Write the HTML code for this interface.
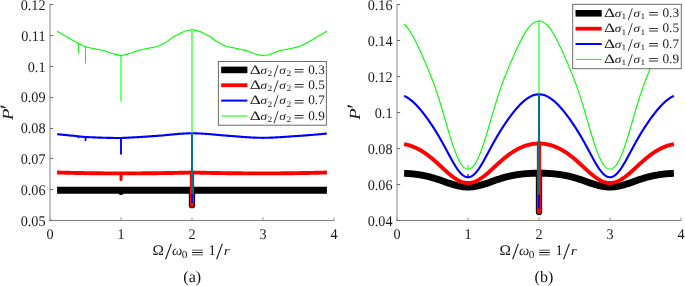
<!DOCTYPE html>
<html><head><meta charset="utf-8"><title>Figure</title>
<style>
html,body{margin:0;padding:0;background:#fff;}
body{width:685px;height:286px;overflow:hidden;}
svg{display:block;}
text{font-family:"Liberation Serif","DejaVu Serif",serif;fill:#1a1a1a;text-rendering:geometricPrecision;}
.t{font-size:14.8px;}
.cap{font-size:16px;fill:#111;}
</style></head><body>
<svg width="685" height="286" viewBox="0 0 685 286">
<rect width="685" height="286" fill="#ffffff"/>
<rect x="49.0" y="4.2" width="2" height="216.6" fill="#c2c2c2"/>
<rect x="49.1" y="219.95" width="285.4" height="0.9" fill="#6e6e6e"/>
<rect x="50.0" y="4" width="3.1" height="1" fill="#6a6a6a"/>
<text transform="translate(45.5,10.05) scale(0.96,1)" text-anchor="end" class="t">0.12</text>
<rect x="50.0" y="35" width="3.1" height="1" fill="#6a6a6a"/>
<text transform="translate(45.5,40.85) scale(0.96,1)" text-anchor="end" class="t">0.11</text>
<rect x="50.0" y="66" width="3.1" height="1" fill="#6a6a6a"/>
<text transform="translate(45.5,71.65) scale(0.96,1)" text-anchor="end" class="t">0.1</text>
<rect x="50.0" y="97" width="3.1" height="1" fill="#6a6a6a"/>
<text transform="translate(45.5,102.45) scale(0.96,1)" text-anchor="end" class="t">0.09</text>
<rect x="50.0" y="128" width="3.1" height="1" fill="#6a6a6a"/>
<text transform="translate(45.5,133.25) scale(0.96,1)" text-anchor="end" class="t">0.08</text>
<rect x="50.0" y="158" width="3.1" height="1" fill="#6a6a6a"/>
<text transform="translate(45.5,164.05) scale(0.96,1)" text-anchor="end" class="t">0.07</text>
<rect x="50.0" y="189" width="3.1" height="1" fill="#6a6a6a"/>
<text transform="translate(45.5,194.85) scale(0.96,1)" text-anchor="end" class="t">0.06</text>
<rect x="50.0" y="220" width="3.1" height="1" fill="#6a6a6a"/>
<text transform="translate(45.5,225.65) scale(0.96,1)" text-anchor="end" class="t">0.05</text>
<rect x="49.5" y="217.4" width="1" height="3" fill="#9a9a9a"/>
<text transform="translate(50.0,238.5) scale(0.96,1)" text-anchor="middle" class="t">0</text>
<rect x="120.5" y="217.4" width="1" height="3" fill="#9a9a9a"/>
<text transform="translate(121.0,238.5) scale(0.96,1)" text-anchor="middle" class="t">1</text>
<rect x="191.5" y="217.4" width="1" height="3" fill="#9a9a9a"/>
<text transform="translate(192.0,238.5) scale(0.96,1)" text-anchor="middle" class="t">2</text>
<rect x="262.5" y="217.4" width="1" height="3" fill="#9a9a9a"/>
<text transform="translate(263.0,238.5) scale(0.96,1)" text-anchor="middle" class="t">3</text>
<rect x="333.5" y="217.4" width="1" height="3" fill="#9a9a9a"/>
<text transform="translate(334.0,238.5) scale(0.96,1)" text-anchor="middle" class="t">4</text>
<rect x="396.0" y="4.2" width="2" height="216.6" fill="#c2c2c2"/>
<rect x="396.1" y="219.95" width="285.4" height="0.9" fill="#6e6e6e"/>
<rect x="397.0" y="4" width="3.1" height="1" fill="#6a6a6a"/>
<text transform="translate(392.5,10.05) scale(0.96,1)" text-anchor="end" class="t">0.16</text>
<rect x="397.0" y="40" width="3.1" height="1" fill="#6a6a6a"/>
<text transform="translate(392.5,45.98) scale(0.96,1)" text-anchor="end" class="t">0.14</text>
<rect x="397.0" y="76" width="3.1" height="1" fill="#6a6a6a"/>
<text transform="translate(392.5,81.92) scale(0.96,1)" text-anchor="end" class="t">0.12</text>
<rect x="397.0" y="112" width="3.1" height="1" fill="#6a6a6a"/>
<text transform="translate(392.5,117.85) scale(0.96,1)" text-anchor="end" class="t">0.1</text>
<rect x="397.0" y="148" width="3.1" height="1" fill="#6a6a6a"/>
<text transform="translate(392.5,153.78) scale(0.96,1)" text-anchor="end" class="t">0.08</text>
<rect x="397.0" y="184" width="3.1" height="1" fill="#6a6a6a"/>
<text transform="translate(392.5,189.72) scale(0.96,1)" text-anchor="end" class="t">0.06</text>
<rect x="397.0" y="220" width="3.1" height="1" fill="#6a6a6a"/>
<text transform="translate(392.5,225.65) scale(0.96,1)" text-anchor="end" class="t">0.04</text>
<rect x="396.5" y="217.4" width="1" height="3" fill="#9a9a9a"/>
<text transform="translate(397.0,238.5) scale(0.96,1)" text-anchor="middle" class="t">0</text>
<rect x="467.5" y="217.4" width="1" height="3" fill="#9a9a9a"/>
<text transform="translate(468.0,238.5) scale(0.96,1)" text-anchor="middle" class="t">1</text>
<rect x="538.5" y="217.4" width="1" height="3" fill="#9a9a9a"/>
<text transform="translate(539.0,238.5) scale(0.96,1)" text-anchor="middle" class="t">2</text>
<rect x="609.5" y="217.4" width="1" height="3" fill="#9a9a9a"/>
<text transform="translate(610.0,238.5) scale(0.96,1)" text-anchor="middle" class="t">3</text>
<rect x="680.5" y="217.4" width="1" height="3" fill="#9a9a9a"/>
<text transform="translate(681.0,238.5) scale(0.96,1)" text-anchor="middle" class="t">4</text>
<path d="M57.10,190.20 L326.90,190.20" fill="none" stroke="#000000" stroke-width="6.9" stroke-linejoin="round" />
<line x1="121.00" y1="190.20" x2="121.00" y2="192.20" stroke="#000000" stroke-width="5.5" stroke-linecap="round"/>
<line x1="192.00" y1="190.20" x2="192.00" y2="205.20" stroke="#000000" stroke-width="6.3" stroke-linecap="round"/>
<path d="M57.10,172.50 L58.07,172.53 L59.04,172.55 L60.01,172.58 L60.98,172.60 L61.95,172.63 L62.92,172.65 L63.89,172.67 L64.86,172.70 L65.83,172.72 L66.81,172.74 L67.78,172.77 L68.75,172.79 L69.72,172.81 L70.69,172.83 L71.66,172.85 L72.63,172.87 L73.60,172.89 L74.57,172.91 L75.54,172.93 L76.51,172.95 L77.48,172.97 L78.45,172.99 L79.42,173.01 L80.39,173.02 L81.36,173.04 L82.33,173.06 L83.30,173.07 L84.27,173.09 L85.24,173.11 L86.22,173.12 L87.19,173.14 L88.16,173.15 L89.13,173.16 L90.10,173.18 L91.07,173.19 L92.04,173.21 L93.01,173.22 L93.98,173.23 L94.95,173.24 L95.92,173.25 L96.89,173.26 L97.86,173.27 L98.83,173.28 L99.80,173.29 L100.77,173.30 L101.74,173.31 L102.71,173.32 L103.68,173.33 L104.65,173.34 L105.63,173.34 L106.60,173.35 L107.57,173.36 L108.54,173.36 L109.51,173.37 L110.48,173.37 L111.45,173.38 L112.42,173.38 L113.39,173.39 L114.36,173.39 L115.33,173.39 L116.30,173.39 L117.27,173.40 L118.24,173.40 L119.21,173.40 L120.18,173.40 L121.15,173.40 L122.12,173.40 L123.09,173.40 L124.06,173.40 L125.04,173.40 L126.01,173.40 L126.98,173.39 L127.95,173.39 L128.92,173.39 L129.89,173.39 L130.86,173.38 L131.83,173.38 L132.80,173.38 L133.77,173.37 L134.74,173.37 L135.71,173.36 L136.68,173.36 L137.65,173.35 L138.62,173.35 L139.59,173.34 L140.56,173.34 L141.53,173.33 L142.50,173.32 L143.47,173.32 L144.45,173.31 L145.42,173.30 L146.39,173.29 L147.36,173.28 L148.33,173.28 L149.30,173.27 L150.27,173.26 L151.24,173.25 L152.21,173.24 L153.18,173.23 L154.15,173.22 L155.12,173.20 L156.09,173.19 L157.06,173.18 L158.03,173.17 L159.00,173.16 L159.97,173.14 L160.94,173.13 L161.91,173.12 L162.88,173.10 L163.86,173.09 L164.83,173.07 L165.80,173.06 L166.77,173.04 L167.74,173.02 L168.71,173.01 L169.68,172.99 L170.65,172.97 L171.62,172.96 L172.59,172.94 L173.56,172.92 L174.53,172.90 L175.50,172.88 L176.47,172.86 L177.44,172.84 L178.41,172.82 L179.38,172.80 L180.35,172.78 L181.32,172.76 L182.29,172.74 L183.27,172.72 L184.24,172.69 L185.21,172.67 L186.18,172.65 L187.15,172.62 L188.12,172.60 L189.09,172.58 L190.06,172.55 L191.03,172.53 L192.00,172.50 L192.97,172.53 L193.94,172.55 L194.91,172.58 L195.88,172.60 L196.85,172.62 L197.82,172.65 L198.79,172.67 L199.76,172.69 L200.73,172.72 L201.71,172.74 L202.68,172.76 L203.65,172.78 L204.62,172.80 L205.59,172.82 L206.56,172.84 L207.53,172.86 L208.50,172.88 L209.47,172.90 L210.44,172.92 L211.41,172.94 L212.38,172.96 L213.35,172.97 L214.32,172.99 L215.29,173.01 L216.26,173.02 L217.23,173.04 L218.20,173.06 L219.17,173.07 L220.14,173.09 L221.12,173.10 L222.09,173.12 L223.06,173.13 L224.03,173.14 L225.00,173.16 L225.97,173.17 L226.94,173.18 L227.91,173.19 L228.88,173.20 L229.85,173.22 L230.82,173.23 L231.79,173.24 L232.76,173.25 L233.73,173.26 L234.70,173.27 L235.67,173.28 L236.64,173.28 L237.61,173.29 L238.58,173.30 L239.55,173.31 L240.53,173.32 L241.50,173.32 L242.47,173.33 L243.44,173.34 L244.41,173.34 L245.38,173.35 L246.35,173.35 L247.32,173.36 L248.29,173.36 L249.26,173.37 L250.23,173.37 L251.20,173.38 L252.17,173.38 L253.14,173.38 L254.11,173.39 L255.08,173.39 L256.05,173.39 L257.02,173.39 L257.99,173.40 L258.96,173.40 L259.94,173.40 L260.91,173.40 L261.88,173.40 L262.85,173.40 L263.82,173.40 L264.79,173.40 L265.76,173.40 L266.73,173.40 L267.70,173.39 L268.67,173.39 L269.64,173.39 L270.61,173.39 L271.58,173.38 L272.55,173.38 L273.52,173.37 L274.49,173.37 L275.46,173.36 L276.43,173.36 L277.40,173.35 L278.37,173.34 L279.35,173.34 L280.32,173.33 L281.29,173.32 L282.26,173.31 L283.23,173.30 L284.20,173.29 L285.17,173.28 L286.14,173.27 L287.11,173.26 L288.08,173.25 L289.05,173.24 L290.02,173.23 L290.99,173.22 L291.96,173.21 L292.93,173.19 L293.90,173.18 L294.87,173.16 L295.84,173.15 L296.81,173.14 L297.78,173.12 L298.76,173.11 L299.73,173.09 L300.70,173.07 L301.67,173.06 L302.64,173.04 L303.61,173.02 L304.58,173.01 L305.55,172.99 L306.52,172.97 L307.49,172.95 L308.46,172.93 L309.43,172.91 L310.40,172.89 L311.37,172.87 L312.34,172.85 L313.31,172.83 L314.28,172.81 L315.25,172.79 L316.22,172.77 L317.19,172.74 L318.17,172.72 L319.14,172.70 L320.11,172.67 L321.08,172.65 L322.05,172.63 L323.02,172.60 L323.99,172.58 L324.96,172.55 L325.93,172.53 L326.90,172.50" fill="none" stroke="#ff0000" stroke-width="3.9" stroke-linejoin="round" />
<line x1="85.50" y1="173.00" x2="85.50" y2="174.60" stroke="#ff0000" stroke-width="1.6" stroke-linecap="round"/>
<line x1="121.00" y1="173.70" x2="121.00" y2="179.50" stroke="#ff0000" stroke-width="3.0" stroke-linecap="round"/>
<line x1="192.00" y1="172.80" x2="192.00" y2="205.20" stroke="#ff0000" stroke-width="4.3" stroke-linecap="round"/>
<path d="M57.10,134.20 L58.18,134.30 L59.27,134.41 L60.35,134.51 L61.43,134.62 L62.52,134.73 L63.60,134.83 L64.68,134.94 L65.76,135.04 L66.85,135.15 L67.93,135.26 L69.01,135.36 L70.10,135.47 L71.18,135.58 L72.26,135.69 L73.35,135.79 L74.43,135.90 L75.51,136.01 L76.59,136.12 L77.68,136.23 L78.76,136.34 L79.84,136.46 L80.93,136.59 L82.01,136.71 L83.09,136.83 L84.18,136.93 L85.26,137.00 L86.34,137.05 L87.43,137.10 L88.51,137.16 L89.59,137.21 L90.67,137.26 L91.76,137.30 L92.84,137.35 L93.92,137.40 L95.01,137.44 L96.09,137.48 L97.17,137.52 L98.26,137.56 L99.34,137.60 L100.42,137.64 L101.51,137.67 L102.59,137.71 L103.67,137.74 L104.75,137.77 L105.84,137.80 L106.92,137.83 L108.00,137.85 L109.09,137.87 L110.17,137.89 L111.25,137.91 L112.34,137.93 L113.42,137.95 L114.50,137.96 L115.58,137.97 L116.67,137.98 L117.75,137.99 L118.83,138.00 L119.92,138.00 L121.00,138.00 L121.90,137.96 L122.80,137.93 L123.70,137.89 L124.59,137.85 L125.49,137.81 L126.39,137.76 L127.29,137.72 L128.19,137.68 L129.09,137.63 L129.99,137.59 L130.89,137.54 L131.78,137.49 L132.68,137.44 L133.58,137.39 L134.48,137.34 L135.38,137.29 L136.28,137.24 L137.18,137.19 L138.08,137.13 L138.97,137.08 L139.87,137.03 L140.77,136.97 L141.67,136.91 L142.57,136.86 L143.47,136.80 L144.37,136.74 L145.27,136.68 L146.16,136.62 L147.06,136.56 L147.96,136.50 L148.86,136.44 L149.76,136.38 L150.66,136.32 L151.56,136.26 L152.46,136.19 L153.35,136.13 L154.25,136.07 L155.15,136.00 L156.05,135.94 L156.95,135.87 L157.85,135.81 L158.75,135.74 L159.65,135.67 L160.54,135.60 L161.44,135.53 L162.34,135.45 L163.24,135.37 L164.14,135.29 L165.04,135.20 L165.94,135.11 L166.84,135.02 L167.73,134.93 L168.63,134.84 L169.53,134.75 L170.43,134.66 L171.33,134.57 L172.23,134.48 L173.13,134.39 L174.03,134.31 L174.92,134.22 L175.82,134.14 L176.72,134.07 L177.62,133.99 L178.52,133.92 L179.42,133.86 L180.32,133.80 L181.22,133.74 L182.11,133.69 L183.01,133.63 L183.91,133.58 L184.81,133.53 L185.71,133.48 L186.61,133.44 L187.51,133.39 L188.41,133.35 L189.30,133.31 L190.20,133.27 L191.10,133.23 L192.00,133.20 L192.97,133.23 L193.94,133.26 L194.91,133.29 L195.88,133.33 L196.85,133.37 L197.82,133.41 L198.79,133.45 L199.76,133.50 L200.73,133.54 L201.71,133.59 L202.68,133.64 L203.65,133.70 L204.62,133.75 L205.59,133.82 L206.56,133.88 L207.53,133.96 L208.50,134.04 L209.47,134.12 L210.44,134.20 L211.41,134.29 L212.38,134.38 L213.35,134.47 L214.32,134.57 L215.29,134.66 L216.26,134.76 L217.23,134.85 L218.20,134.94 L219.17,135.04 L220.14,135.12 L221.12,135.21 L222.09,135.30 L223.06,135.37 L224.03,135.45 L225.00,135.52 L225.97,135.59 L226.94,135.67 L227.91,135.74 L228.88,135.81 L229.85,135.89 L230.82,135.97 L231.79,136.05 L232.76,136.12 L233.73,136.20 L234.70,136.28 L235.67,136.36 L236.64,136.44 L237.61,136.52 L238.58,136.59 L239.55,136.67 L240.53,136.75 L241.50,136.82 L242.47,136.89 L243.44,136.96 L244.41,137.03 L245.38,137.10 L246.35,137.17 L247.32,137.23 L248.29,137.29 L249.26,137.35 L250.23,137.41 L251.20,137.46 L252.17,137.51 L253.14,137.56 L254.11,137.60 L255.08,137.64 L256.05,137.67 L257.02,137.71 L257.99,137.73 L258.96,137.76 L259.94,137.77 L260.91,137.79 L261.88,137.80 L262.85,137.80 L263.82,137.80 L264.79,137.79 L265.76,137.78 L266.73,137.76 L267.70,137.74 L268.67,137.72 L269.64,137.69 L270.61,137.65 L271.58,137.62 L272.55,137.58 L273.52,137.53 L274.49,137.49 L275.46,137.44 L276.43,137.39 L277.40,137.33 L278.37,137.28 L279.35,137.22 L280.32,137.16 L281.29,137.09 L282.26,137.03 L283.23,136.97 L284.20,136.90 L285.17,136.83 L286.14,136.77 L287.11,136.70 L288.08,136.63 L289.05,136.56 L290.02,136.50 L290.99,136.43 L291.96,136.36 L292.93,136.30 L293.90,136.23 L294.87,136.17 L295.84,136.11 L296.81,136.05 L297.78,135.99 L298.76,135.92 L299.73,135.85 L300.70,135.78 L301.67,135.71 L302.64,135.64 L303.61,135.57 L304.58,135.50 L305.55,135.42 L306.52,135.34 L307.49,135.27 L308.46,135.19 L309.43,135.11 L310.40,135.03 L311.37,134.95 L312.34,134.87 L313.31,134.79 L314.28,134.71 L315.25,134.63 L316.22,134.54 L317.19,134.46 L318.17,134.37 L319.14,134.28 L320.11,134.19 L321.08,134.11 L322.05,134.02 L323.02,133.92 L323.99,133.83 L324.96,133.74 L325.93,133.64 L326.90,133.55" fill="none" stroke="#0000ff" stroke-width="2.15" stroke-linejoin="round" />
<line x1="78.40" y1="136.00" x2="78.40" y2="138.20" stroke="#0000ff" stroke-width="1.6" stroke-linecap="butt"/>
<line x1="85.50" y1="136.70" x2="85.50" y2="141.00" stroke="#0000ff" stroke-width="1.7" stroke-linecap="butt"/>
<line x1="121.00" y1="137.70" x2="121.00" y2="154.50" stroke="#0000ff" stroke-width="1.9" stroke-linecap="butt"/>
<line x1="192.00" y1="132.90" x2="192.00" y2="203.00" stroke="#0000ff" stroke-width="2.0" stroke-linecap="butt"/>
<path d="M57.10,31.10 L58.18,31.76 L59.27,32.41 L60.35,33.06 L61.43,33.71 L62.52,34.35 L63.60,34.99 L64.68,35.63 L65.76,36.26 L66.85,36.89 L67.93,37.52 L69.01,38.14 L70.10,38.78 L71.18,39.41 L72.26,40.03 L73.35,40.66 L74.43,41.27 L75.51,41.87 L76.59,42.46 L77.68,43.03 L78.76,43.58 L79.84,44.14 L80.93,44.70 L82.01,45.25 L83.09,45.75 L84.18,46.21 L85.26,46.59 L86.34,46.91 L87.43,47.21 L88.51,47.48 L89.59,47.74 L90.67,47.98 L91.76,48.20 L92.84,48.42 L93.92,48.63 L95.01,48.83 L96.09,49.04 L97.17,49.25 L98.26,49.47 L99.34,49.68 L100.42,49.88 L101.51,50.07 L102.59,50.28 L103.67,50.52 L104.75,50.81 L105.84,51.17 L106.92,51.58 L108.00,52.01 L109.09,52.44 L110.17,52.83 L111.25,53.17 L112.34,53.49 L113.42,53.80 L114.50,54.10 L115.58,54.38 L116.67,54.65 L117.75,54.91 L118.83,55.16 L119.92,55.39 L121.00,55.60 L121.90,55.42 L122.80,55.22 L123.70,55.02 L124.59,54.80 L125.49,54.57 L126.39,54.34 L127.29,54.09 L128.19,53.84 L129.09,53.58 L129.99,53.32 L130.89,53.04 L131.78,52.77 L132.68,52.47 L133.58,52.14 L134.48,51.78 L135.38,51.42 L136.28,51.07 L137.18,50.75 L138.08,50.48 L138.97,50.25 L139.87,50.05 L140.77,49.86 L141.67,49.68 L142.57,49.48 L143.47,49.29 L144.37,49.10 L145.27,48.90 L146.16,48.71 L147.06,48.52 L147.96,48.33 L148.86,48.14 L149.76,47.95 L150.66,47.77 L151.56,47.59 L152.46,47.43 L153.35,47.26 L154.25,47.09 L155.15,46.91 L156.05,46.70 L156.95,46.47 L157.85,46.20 L158.75,45.88 L159.65,45.52 L160.54,45.12 L161.44,44.69 L162.34,44.23 L163.24,43.74 L164.14,43.23 L165.04,42.70 L165.94,42.17 L166.84,41.62 L167.73,41.08 L168.63,40.49 L169.53,39.82 L170.43,39.12 L171.33,38.40 L172.23,37.71 L173.13,37.06 L174.03,36.49 L174.92,35.99 L175.82,35.53 L176.72,35.10 L177.62,34.68 L178.52,34.24 L179.42,33.79 L180.32,33.33 L181.22,32.86 L182.11,32.41 L183.01,31.98 L183.91,31.59 L184.81,31.25 L185.71,30.97 L186.61,30.73 L187.51,30.49 L188.41,30.28 L189.30,30.09 L190.20,29.93 L191.10,29.80 L192.00,29.70 L192.97,29.80 L193.94,29.95 L194.91,30.13 L195.88,30.35 L196.85,30.58 L197.82,30.84 L198.79,31.12 L199.76,31.46 L200.73,31.86 L201.71,32.32 L202.68,32.80 L203.65,33.31 L204.62,33.81 L205.59,34.30 L206.56,34.76 L207.53,35.22 L208.50,35.69 L209.47,36.20 L210.44,36.77 L211.41,37.44 L212.38,38.18 L213.35,38.94 L214.32,39.71 L215.29,40.43 L216.26,41.08 L217.23,41.67 L218.20,42.25 L219.17,42.83 L220.14,43.39 L221.12,43.93 L222.09,44.45 L223.06,44.93 L224.03,45.38 L225.00,45.78 L225.97,46.14 L226.94,46.44 L227.91,46.69 L228.88,46.92 L229.85,47.11 L230.82,47.30 L231.79,47.47 L232.76,47.65 L233.73,47.84 L234.70,48.05 L235.67,48.25 L236.64,48.46 L237.61,48.66 L238.58,48.87 L239.55,49.08 L240.53,49.29 L241.50,49.50 L242.47,49.70 L243.44,49.90 L244.41,50.11 L245.38,50.34 L246.35,50.60 L247.32,50.91 L248.29,51.26 L249.26,51.64 L250.23,52.02 L251.20,52.40 L252.17,52.76 L253.14,53.15 L254.11,53.56 L255.08,53.97 L256.05,54.34 L257.02,54.64 L257.99,54.85 L258.96,55.00 L259.94,55.13 L260.91,55.24 L261.88,55.32 L262.85,55.35 L263.82,55.33 L264.79,55.27 L265.76,55.17 L266.73,55.04 L267.70,54.90 L268.67,54.71 L269.64,54.42 L270.61,54.05 L271.58,53.66 L272.55,53.27 L273.52,52.91 L274.49,52.54 L275.46,52.16 L276.43,51.79 L277.40,51.42 L278.37,51.08 L279.35,50.78 L280.32,50.52 L281.29,50.31 L282.26,50.12 L283.23,49.94 L284.20,49.77 L285.17,49.59 L286.14,49.39 L287.11,49.20 L288.08,49.01 L289.05,48.82 L290.02,48.64 L290.99,48.45 L291.96,48.26 L292.93,48.06 L293.90,47.85 L294.87,47.63 L295.84,47.40 L296.81,47.14 L297.78,46.87 L298.76,46.58 L299.73,46.24 L300.70,45.84 L301.67,45.40 L302.64,44.92 L303.61,44.43 L304.58,43.92 L305.55,43.43 L306.52,42.93 L307.49,42.41 L308.46,41.89 L309.43,41.35 L310.40,40.80 L311.37,40.24 L312.34,39.68 L313.31,39.12 L314.28,38.55 L315.25,37.99 L316.22,37.43 L317.19,36.87 L318.17,36.30 L319.14,35.74 L320.11,35.17 L321.08,34.59 L322.05,34.02 L323.02,33.44 L323.99,32.86 L324.96,32.28 L325.93,31.69 L326.90,31.10" fill="none" stroke="#00ff00" stroke-width="1.12" stroke-linejoin="round" />
<line x1="78.40" y1="43.10" x2="78.40" y2="53.60" stroke="#00ff00" stroke-width="1.0" stroke-linecap="butt"/>
<line x1="85.50" y1="46.30" x2="85.50" y2="63.50" stroke="#00ff00" stroke-width="1.0" stroke-linecap="butt"/>
<line x1="121.00" y1="55.60" x2="121.00" y2="101.50" stroke="#00ff00" stroke-width="2.0" stroke-linecap="butt" stroke-opacity="0.53"/>
<line x1="192.00" y1="29.50" x2="192.00" y2="132.90" stroke="#00ff00" stroke-width="2.0" stroke-linecap="butt" stroke-opacity="0.53"/>
<line x1="192.00" y1="132.90" x2="192.00" y2="194.00" stroke="#00ff00" stroke-width="2.0" stroke-linecap="butt" stroke-opacity="0.46"/>
<path d="M404.10,173.31 L404.78,173.34 L405.45,173.37 L406.13,173.41 L406.80,173.45 L407.48,173.49 L408.16,173.53 L408.83,173.58 L409.51,173.63 L410.19,173.68 L410.86,173.74 L411.54,173.80 L412.21,173.86 L412.89,173.93 L413.57,174.00 L414.24,174.07 L414.92,174.15 L415.60,174.23 L416.27,174.32 L416.95,174.41 L417.62,174.50 L418.30,174.60 L418.98,174.70 L419.65,174.81 L420.33,174.92 L421.00,175.03 L421.68,175.15 L422.36,175.27 L423.03,175.40 L423.71,175.53 L424.39,175.67 L425.06,175.81 L425.74,175.96 L426.41,176.11 L427.09,176.27 L427.77,176.43 L428.44,176.60 L429.12,176.77 L429.80,176.94 L430.47,177.12 L431.15,177.30 L431.82,177.49 L432.50,177.69 L433.18,177.88 L433.85,178.09 L434.53,178.29 L435.20,178.50 L435.88,178.72 L436.56,178.93 L437.23,179.15 L437.91,179.38 L438.59,179.60 L439.26,179.83 L439.94,180.06 L440.61,180.30 L441.29,180.53 L441.97,180.77 L442.64,181.01 L443.32,181.25 L444.00,181.49 L444.67,181.73 L445.35,181.97 L446.02,182.20 L446.70,182.44 L447.38,182.68 L448.05,182.91 L448.73,183.14 L449.40,183.37 L450.08,183.60 L450.76,183.82 L451.43,184.04 L452.11,184.25 L452.79,184.46 L453.46,184.66 L454.14,184.86 L454.81,185.05 L455.49,185.24 L456.17,185.41 L456.84,185.58 L457.52,185.75 L458.20,185.90 L458.87,186.04 L459.55,186.18 L460.22,186.31 L460.90,186.43 L461.58,186.53 L462.25,186.63 L462.93,186.72 L463.60,186.80 L464.28,186.86 L464.96,186.92 L465.63,186.96 L466.31,187.00 L466.99,187.02 L467.66,187.03 L468.34,187.03 L469.01,187.02 L469.69,187.00 L470.37,186.96 L471.04,186.92 L471.72,186.86 L472.40,186.80 L473.07,186.72 L473.75,186.63 L474.42,186.53 L475.10,186.43 L475.78,186.31 L476.45,186.18 L477.13,186.04 L477.80,185.90 L478.48,185.75 L479.16,185.58 L479.83,185.41 L480.51,185.24 L481.19,185.05 L481.86,184.86 L482.54,184.66 L483.21,184.46 L483.89,184.25 L484.57,184.04 L485.24,183.82 L485.92,183.60 L486.60,183.37 L487.27,183.14 L487.95,182.91 L488.62,182.68 L489.30,182.44 L489.98,182.20 L490.65,181.97 L491.33,181.73 L492.00,181.49 L492.68,181.25 L493.36,181.01 L494.03,180.77 L494.71,180.53 L495.39,180.30 L496.06,180.06 L496.74,179.83 L497.41,179.60 L498.09,179.38 L498.77,179.15 L499.44,178.93 L500.12,178.72 L500.80,178.50 L501.47,178.29 L502.15,178.09 L502.82,177.88 L503.50,177.69 L504.18,177.49 L504.85,177.30 L505.53,177.12 L506.20,176.94 L506.88,176.77 L507.56,176.60 L508.23,176.43 L508.91,176.27 L509.59,176.11 L510.26,175.96 L510.94,175.81 L511.61,175.67 L512.29,175.53 L512.97,175.40 L513.64,175.27 L514.32,175.15 L515.00,175.03 L515.67,174.92 L516.35,174.81 L517.02,174.70 L517.70,174.60 L518.38,174.50 L519.05,174.41 L519.73,174.32 L520.40,174.23 L521.08,174.15 L521.76,174.07 L522.43,174.00 L523.11,173.93 L523.79,173.86 L524.46,173.80 L525.14,173.74 L525.81,173.68 L526.49,173.63 L527.17,173.58 L527.84,173.53 L528.52,173.49 L529.20,173.45 L529.87,173.41 L530.55,173.37 L531.22,173.34 L531.90,173.31 L532.58,173.29 L533.25,173.26 L533.93,173.24 L534.60,173.22 L535.28,173.21 L535.96,173.19 L536.63,173.18 L537.31,173.18 L537.99,173.17 L538.66,173.17 L539.34,173.17 L540.01,173.17 L540.69,173.18 L541.37,173.18 L542.04,173.19 L542.72,173.21 L543.40,173.22 L544.07,173.24 L544.75,173.26 L545.42,173.29 L546.10,173.31 L546.78,173.34 L547.45,173.37 L548.13,173.41 L548.80,173.45 L549.48,173.49 L550.16,173.53 L550.83,173.58 L551.51,173.63 L552.19,173.68 L552.86,173.74 L553.54,173.80 L554.21,173.86 L554.89,173.93 L555.57,174.00 L556.24,174.07 L556.92,174.15 L557.60,174.23 L558.27,174.32 L558.95,174.41 L559.62,174.50 L560.30,174.60 L560.98,174.70 L561.65,174.81 L562.33,174.92 L563.00,175.03 L563.68,175.15 L564.36,175.27 L565.03,175.40 L565.71,175.53 L566.39,175.67 L567.06,175.81 L567.74,175.96 L568.41,176.11 L569.09,176.27 L569.77,176.43 L570.44,176.60 L571.12,176.77 L571.80,176.94 L572.47,177.12 L573.15,177.30 L573.82,177.49 L574.50,177.69 L575.18,177.88 L575.85,178.09 L576.53,178.29 L577.20,178.50 L577.88,178.72 L578.56,178.93 L579.23,179.15 L579.91,179.38 L580.59,179.60 L581.26,179.83 L581.94,180.06 L582.61,180.30 L583.29,180.53 L583.97,180.77 L584.64,181.01 L585.32,181.25 L586.00,181.49 L586.67,181.73 L587.35,181.97 L588.02,182.20 L588.70,182.44 L589.38,182.68 L590.05,182.91 L590.73,183.14 L591.40,183.37 L592.08,183.60 L592.76,183.82 L593.43,184.04 L594.11,184.25 L594.79,184.46 L595.46,184.66 L596.14,184.86 L596.81,185.05 L597.49,185.24 L598.17,185.41 L598.84,185.58 L599.52,185.75 L600.20,185.90 L600.87,186.04 L601.55,186.18 L602.22,186.31 L602.90,186.43 L603.58,186.53 L604.25,186.63 L604.93,186.72 L605.60,186.80 L606.28,186.86 L606.96,186.92 L607.63,186.96 L608.31,187.00 L608.99,187.02 L609.66,187.03 L610.34,187.03 L611.01,187.02 L611.69,187.00 L612.37,186.96 L613.04,186.92 L613.72,186.86 L614.40,186.80 L615.07,186.72 L615.75,186.63 L616.42,186.53 L617.10,186.43 L617.78,186.31 L618.45,186.18 L619.13,186.04 L619.80,185.90 L620.48,185.75 L621.16,185.58 L621.83,185.41 L622.51,185.24 L623.19,185.05 L623.86,184.86 L624.54,184.66 L625.21,184.46 L625.89,184.25 L626.57,184.04 L627.24,183.82 L627.92,183.60 L628.60,183.37 L629.27,183.14 L629.95,182.91 L630.62,182.68 L631.30,182.44 L631.98,182.20 L632.65,181.97 L633.33,181.73 L634.00,181.49 L634.68,181.25 L635.36,181.01 L636.03,180.77 L636.71,180.53 L637.39,180.30 L638.06,180.06 L638.74,179.83 L639.41,179.60 L640.09,179.38 L640.77,179.15 L641.44,178.93 L642.12,178.72 L642.80,178.50 L643.47,178.29 L644.15,178.09 L644.82,177.88 L645.50,177.69 L646.18,177.49 L646.85,177.30 L647.53,177.12 L648.20,176.94 L648.88,176.77 L649.56,176.60 L650.23,176.43 L650.91,176.27 L651.59,176.11 L652.26,175.96 L652.94,175.81 L653.61,175.67 L654.29,175.53 L654.97,175.40 L655.64,175.27 L656.32,175.15 L657.00,175.03 L657.67,174.92 L658.35,174.81 L659.02,174.70 L659.70,174.60 L660.38,174.50 L661.05,174.41 L661.73,174.32 L662.40,174.23 L663.08,174.15 L663.76,174.07 L664.43,174.00 L665.11,173.93 L665.79,173.86 L666.46,173.80 L667.14,173.74 L667.81,173.68 L668.49,173.63 L669.17,173.58 L669.84,173.53 L670.52,173.49 L671.20,173.45 L671.87,173.41 L672.55,173.37 L673.22,173.34 L673.90,173.31" fill="none" stroke="#000000" stroke-width="6.9" stroke-linejoin="round" />
<line x1="539.00" y1="173.10" x2="539.00" y2="212.10" stroke="#000000" stroke-width="6.3" stroke-linecap="round"/>
<path d="M404.10,144.14 L404.78,144.27 L405.45,144.40 L406.13,144.55 L406.80,144.70 L407.48,144.87 L408.16,145.05 L408.83,145.24 L409.51,145.44 L410.19,145.66 L410.86,145.88 L411.54,146.12 L412.21,146.36 L412.89,146.62 L413.57,146.89 L414.24,147.17 L414.92,147.46 L415.60,147.77 L416.27,148.08 L416.95,148.41 L417.62,148.74 L418.30,149.09 L418.98,149.45 L419.65,149.82 L420.33,150.21 L421.00,150.60 L421.68,151.01 L422.36,151.42 L423.03,151.85 L423.71,152.29 L424.39,152.74 L425.06,153.20 L425.74,153.67 L426.41,154.15 L427.09,154.64 L427.77,155.14 L428.44,155.65 L429.12,156.17 L429.80,156.70 L430.47,157.24 L431.15,157.79 L431.82,158.35 L432.50,158.91 L433.18,159.48 L433.85,160.06 L434.53,160.65 L435.20,161.24 L435.88,161.84 L436.56,162.45 L437.23,163.06 L437.91,163.67 L438.59,164.29 L439.26,164.91 L439.94,165.54 L440.61,166.16 L441.29,166.79 L441.97,167.41 L442.64,168.04 L443.32,168.67 L444.00,169.29 L444.67,169.91 L445.35,170.52 L446.02,171.13 L446.70,171.74 L447.38,172.34 L448.05,172.93 L448.73,173.51 L449.40,174.09 L450.08,174.65 L450.76,175.20 L451.43,175.74 L452.11,176.27 L452.79,176.79 L453.46,177.29 L454.14,177.77 L454.81,178.24 L455.49,178.68 L456.17,179.12 L456.84,179.53 L457.52,179.92 L458.20,180.29 L458.87,180.64 L459.55,180.97 L460.22,181.28 L460.90,181.56 L461.58,181.82 L462.25,182.05 L462.93,182.26 L463.60,182.45 L464.28,182.60 L464.96,182.74 L465.63,182.84 L466.31,182.92 L466.99,182.98 L467.66,183.00 L468.34,183.00 L469.01,182.98 L469.69,182.92 L470.37,182.84 L471.04,182.74 L471.72,182.60 L472.40,182.45 L473.07,182.26 L473.75,182.05 L474.42,181.82 L475.10,181.56 L475.78,181.28 L476.45,180.97 L477.13,180.64 L477.80,180.29 L478.48,179.92 L479.16,179.53 L479.83,179.12 L480.51,178.68 L481.19,178.24 L481.86,177.77 L482.54,177.29 L483.21,176.79 L483.89,176.27 L484.57,175.74 L485.24,175.20 L485.92,174.65 L486.60,174.09 L487.27,173.51 L487.95,172.93 L488.62,172.34 L489.30,171.74 L489.98,171.13 L490.65,170.52 L491.33,169.91 L492.00,169.29 L492.68,168.67 L493.36,168.04 L494.03,167.41 L494.71,166.79 L495.39,166.16 L496.06,165.54 L496.74,164.91 L497.41,164.29 L498.09,163.67 L498.77,163.06 L499.44,162.45 L500.12,161.84 L500.80,161.24 L501.47,160.65 L502.15,160.06 L502.82,159.48 L503.50,158.91 L504.18,158.35 L504.85,157.79 L505.53,157.24 L506.20,156.70 L506.88,156.17 L507.56,155.65 L508.23,155.14 L508.91,154.64 L509.59,154.15 L510.26,153.67 L510.94,153.20 L511.61,152.74 L512.29,152.29 L512.97,151.85 L513.64,151.42 L514.32,151.01 L515.00,150.60 L515.67,150.21 L516.35,149.82 L517.02,149.45 L517.70,149.09 L518.38,148.74 L519.05,148.41 L519.73,148.08 L520.40,147.77 L521.08,147.46 L521.76,147.17 L522.43,146.89 L523.11,146.62 L523.79,146.36 L524.46,146.12 L525.14,145.88 L525.81,145.66 L526.49,145.44 L527.17,145.24 L527.84,145.05 L528.52,144.87 L529.20,144.70 L529.87,144.55 L530.55,144.40 L531.22,144.27 L531.90,144.14 L532.58,144.03 L533.25,143.93 L533.93,143.84 L534.60,143.76 L535.28,143.70 L535.96,143.64 L536.63,143.60 L537.31,143.56 L537.99,143.54 L538.66,143.53 L539.34,143.53 L540.01,143.54 L540.69,143.56 L541.37,143.60 L542.04,143.64 L542.72,143.70 L543.40,143.76 L544.07,143.84 L544.75,143.93 L545.42,144.03 L546.10,144.14 L546.78,144.27 L547.45,144.40 L548.13,144.55 L548.80,144.70 L549.48,144.87 L550.16,145.05 L550.83,145.24 L551.51,145.44 L552.19,145.66 L552.86,145.88 L553.54,146.12 L554.21,146.36 L554.89,146.62 L555.57,146.89 L556.24,147.17 L556.92,147.46 L557.60,147.77 L558.27,148.08 L558.95,148.41 L559.62,148.74 L560.30,149.09 L560.98,149.45 L561.65,149.82 L562.33,150.21 L563.00,150.60 L563.68,151.01 L564.36,151.42 L565.03,151.85 L565.71,152.29 L566.39,152.74 L567.06,153.20 L567.74,153.67 L568.41,154.15 L569.09,154.64 L569.77,155.14 L570.44,155.65 L571.12,156.17 L571.80,156.70 L572.47,157.24 L573.15,157.79 L573.82,158.35 L574.50,158.91 L575.18,159.48 L575.85,160.06 L576.53,160.65 L577.20,161.24 L577.88,161.84 L578.56,162.45 L579.23,163.06 L579.91,163.67 L580.59,164.29 L581.26,164.91 L581.94,165.54 L582.61,166.16 L583.29,166.79 L583.97,167.41 L584.64,168.04 L585.32,168.67 L586.00,169.29 L586.67,169.91 L587.35,170.52 L588.02,171.13 L588.70,171.74 L589.38,172.34 L590.05,172.93 L590.73,173.51 L591.40,174.09 L592.08,174.65 L592.76,175.20 L593.43,175.74 L594.11,176.27 L594.79,176.79 L595.46,177.29 L596.14,177.77 L596.81,178.24 L597.49,178.68 L598.17,179.12 L598.84,179.53 L599.52,179.92 L600.20,180.29 L600.87,180.64 L601.55,180.97 L602.22,181.28 L602.90,181.56 L603.58,181.82 L604.25,182.05 L604.93,182.26 L605.60,182.45 L606.28,182.60 L606.96,182.74 L607.63,182.84 L608.31,182.92 L608.99,182.98 L609.66,183.00 L610.34,183.00 L611.01,182.98 L611.69,182.92 L612.37,182.84 L613.04,182.74 L613.72,182.60 L614.40,182.45 L615.07,182.26 L615.75,182.05 L616.42,181.82 L617.10,181.56 L617.78,181.28 L618.45,180.97 L619.13,180.64 L619.80,180.29 L620.48,179.92 L621.16,179.53 L621.83,179.12 L622.51,178.68 L623.19,178.24 L623.86,177.77 L624.54,177.29 L625.21,176.79 L625.89,176.27 L626.57,175.74 L627.24,175.20 L627.92,174.65 L628.60,174.09 L629.27,173.51 L629.95,172.93 L630.62,172.34 L631.30,171.74 L631.98,171.13 L632.65,170.52 L633.33,169.91 L634.00,169.29 L634.68,168.67 L635.36,168.04 L636.03,167.41 L636.71,166.79 L637.39,166.16 L638.06,165.54 L638.74,164.91 L639.41,164.29 L640.09,163.67 L640.77,163.06 L641.44,162.45 L642.12,161.84 L642.80,161.24 L643.47,160.65 L644.15,160.06 L644.82,159.48 L645.50,158.91 L646.18,158.35 L646.85,157.79 L647.53,157.24 L648.20,156.70 L648.88,156.17 L649.56,155.65 L650.23,155.14 L650.91,154.64 L651.59,154.15 L652.26,153.67 L652.94,153.20 L653.61,152.74 L654.29,152.29 L654.97,151.85 L655.64,151.42 L656.32,151.01 L657.00,150.60 L657.67,150.21 L658.35,149.82 L659.02,149.45 L659.70,149.09 L660.38,148.74 L661.05,148.41 L661.73,148.08 L662.40,147.77 L663.08,147.46 L663.76,147.17 L664.43,146.89 L665.11,146.62 L665.79,146.36 L666.46,146.12 L667.14,145.88 L667.81,145.66 L668.49,145.44 L669.17,145.24 L669.84,145.05 L670.52,144.87 L671.20,144.70 L671.87,144.55 L672.55,144.40 L673.22,144.27 L673.90,144.14" fill="none" stroke="#ff0000" stroke-width="3.9" stroke-linejoin="round" />
<line x1="539.00" y1="143.00" x2="539.00" y2="212.00" stroke="#ff0000" stroke-width="4.3" stroke-linecap="round"/>
<path d="M404.10,95.88 L404.78,96.18 L405.45,96.50 L406.13,96.86 L406.80,97.24 L407.48,97.64 L408.16,98.07 L408.83,98.53 L409.51,99.01 L410.19,99.51 L410.86,100.03 L411.54,100.58 L412.21,101.15 L412.89,101.75 L413.57,102.36 L414.24,103.00 L414.92,103.65 L415.60,104.33 L416.27,105.02 L416.95,105.73 L417.62,106.46 L418.30,107.21 L418.98,107.97 L419.65,108.75 L420.33,109.54 L421.00,110.35 L421.68,111.17 L422.36,112.01 L423.03,112.86 L423.71,113.73 L424.39,114.60 L425.06,115.49 L425.74,116.39 L426.41,117.31 L427.09,118.23 L427.77,119.17 L428.44,120.12 L429.12,121.09 L429.80,122.06 L430.47,123.05 L431.15,124.05 L431.82,125.06 L432.50,126.08 L433.18,127.12 L433.85,128.17 L434.53,129.24 L435.20,130.32 L435.88,131.41 L436.56,132.51 L437.23,133.63 L437.91,134.77 L438.59,135.91 L439.26,137.07 L439.94,138.25 L440.61,139.43 L441.29,140.63 L441.97,141.84 L442.64,143.06 L443.32,144.29 L444.00,145.53 L444.67,146.78 L445.35,148.04 L446.02,149.30 L446.70,150.56 L447.38,151.82 L448.05,153.09 L448.73,154.35 L449.40,155.60 L450.08,156.85 L450.76,158.09 L451.43,159.31 L452.11,160.52 L452.79,161.71 L453.46,162.88 L454.14,164.03 L454.81,165.14 L455.49,166.23 L456.17,167.28 L456.84,168.29 L457.52,169.27 L458.20,170.20 L458.87,171.08 L459.55,171.91 L460.22,172.70 L460.90,173.42 L461.58,174.09 L462.25,174.70 L462.93,175.25 L463.60,175.74 L464.28,176.15 L464.96,176.51 L465.63,176.79 L466.31,177.00 L466.99,177.14 L467.66,177.21 L468.34,177.21 L469.01,177.14 L469.69,177.00 L470.37,176.79 L471.04,176.51 L471.72,176.15 L472.40,175.74 L473.07,175.25 L473.75,174.70 L474.42,174.09 L475.10,173.42 L475.78,172.70 L476.45,171.91 L477.13,171.08 L477.80,170.20 L478.48,169.27 L479.16,168.29 L479.83,167.28 L480.51,166.23 L481.19,165.14 L481.86,164.03 L482.54,162.88 L483.21,161.71 L483.89,160.52 L484.57,159.31 L485.24,158.09 L485.92,156.85 L486.60,155.60 L487.27,154.35 L487.95,153.09 L488.62,151.82 L489.30,150.56 L489.98,149.30 L490.65,148.04 L491.33,146.78 L492.00,145.53 L492.68,144.29 L493.36,143.06 L494.03,141.84 L494.71,140.63 L495.39,139.43 L496.06,138.25 L496.74,137.07 L497.41,135.91 L498.09,134.77 L498.77,133.63 L499.44,132.51 L500.12,131.41 L500.80,130.32 L501.47,129.24 L502.15,128.17 L502.82,127.12 L503.50,126.08 L504.18,125.06 L504.85,124.05 L505.53,123.05 L506.20,122.06 L506.88,121.09 L507.56,120.12 L508.23,119.17 L508.91,118.23 L509.59,117.31 L510.26,116.39 L510.94,115.49 L511.61,114.60 L512.29,113.73 L512.97,112.86 L513.64,112.01 L514.32,111.17 L515.00,110.35 L515.67,109.54 L516.35,108.75 L517.02,107.97 L517.70,107.21 L518.38,106.46 L519.05,105.73 L519.73,105.02 L520.40,104.33 L521.08,103.65 L521.76,103.00 L522.43,102.36 L523.11,101.75 L523.79,101.15 L524.46,100.58 L525.14,100.03 L525.81,99.51 L526.49,99.01 L527.17,98.53 L527.84,98.07 L528.52,97.64 L529.20,97.24 L529.87,96.86 L530.55,96.50 L531.22,96.18 L531.90,95.88 L532.58,95.60 L533.25,95.35 L533.93,95.13 L534.60,94.94 L535.28,94.77 L535.96,94.64 L536.63,94.52 L537.31,94.44 L537.99,94.39 L538.66,94.36 L539.34,94.36 L540.01,94.39 L540.69,94.44 L541.37,94.52 L542.04,94.64 L542.72,94.77 L543.40,94.94 L544.07,95.13 L544.75,95.35 L545.42,95.60 L546.10,95.88 L546.78,96.18 L547.45,96.50 L548.13,96.86 L548.80,97.24 L549.48,97.64 L550.16,98.07 L550.83,98.53 L551.51,99.01 L552.19,99.51 L552.86,100.03 L553.54,100.58 L554.21,101.15 L554.89,101.75 L555.57,102.36 L556.24,103.00 L556.92,103.65 L557.60,104.33 L558.27,105.02 L558.95,105.73 L559.62,106.46 L560.30,107.21 L560.98,107.97 L561.65,108.75 L562.33,109.54 L563.00,110.35 L563.68,111.17 L564.36,112.01 L565.03,112.86 L565.71,113.73 L566.39,114.60 L567.06,115.49 L567.74,116.39 L568.41,117.31 L569.09,118.23 L569.77,119.17 L570.44,120.12 L571.12,121.09 L571.80,122.06 L572.47,123.05 L573.15,124.05 L573.82,125.06 L574.50,126.08 L575.18,127.12 L575.85,128.17 L576.53,129.24 L577.20,130.32 L577.88,131.41 L578.56,132.51 L579.23,133.63 L579.91,134.77 L580.59,135.91 L581.26,137.07 L581.94,138.25 L582.61,139.43 L583.29,140.63 L583.97,141.84 L584.64,143.06 L585.32,144.29 L586.00,145.53 L586.67,146.78 L587.35,148.04 L588.02,149.30 L588.70,150.56 L589.38,151.82 L590.05,153.09 L590.73,154.35 L591.40,155.60 L592.08,156.85 L592.76,158.09 L593.43,159.31 L594.11,160.52 L594.79,161.71 L595.46,162.88 L596.14,164.03 L596.81,165.14 L597.49,166.23 L598.17,167.28 L598.84,168.29 L599.52,169.27 L600.20,170.20 L600.87,171.08 L601.55,171.91 L602.22,172.70 L602.90,173.42 L603.58,174.09 L604.25,174.70 L604.93,175.25 L605.60,175.74 L606.28,176.15 L606.96,176.51 L607.63,176.79 L608.31,177.00 L608.99,177.14 L609.66,177.21 L610.34,177.21 L611.01,177.14 L611.69,177.00 L612.37,176.79 L613.04,176.51 L613.72,176.15 L614.40,175.74 L615.07,175.25 L615.75,174.70 L616.42,174.09 L617.10,173.42 L617.78,172.70 L618.45,171.91 L619.13,171.08 L619.80,170.20 L620.48,169.27 L621.16,168.29 L621.83,167.28 L622.51,166.23 L623.19,165.14 L623.86,164.03 L624.54,162.88 L625.21,161.71 L625.89,160.52 L626.57,159.31 L627.24,158.09 L627.92,156.85 L628.60,155.60 L629.27,154.35 L629.95,153.09 L630.62,151.82 L631.30,150.56 L631.98,149.30 L632.65,148.04 L633.33,146.78 L634.00,145.53 L634.68,144.29 L635.36,143.06 L636.03,141.84 L636.71,140.63 L637.39,139.43 L638.06,138.25 L638.74,137.07 L639.41,135.91 L640.09,134.77 L640.77,133.63 L641.44,132.51 L642.12,131.41 L642.80,130.32 L643.47,129.24 L644.15,128.17 L644.82,127.12 L645.50,126.08 L646.18,125.06 L646.85,124.05 L647.53,123.05 L648.20,122.06 L648.88,121.09 L649.56,120.12 L650.23,119.17 L650.91,118.23 L651.59,117.31 L652.26,116.39 L652.94,115.49 L653.61,114.60 L654.29,113.73 L654.97,112.86 L655.64,112.01 L656.32,111.17 L657.00,110.35 L657.67,109.54 L658.35,108.75 L659.02,107.97 L659.70,107.21 L660.38,106.46 L661.05,105.73 L661.73,105.02 L662.40,104.33 L663.08,103.65 L663.76,103.00 L664.43,102.36 L665.11,101.75 L665.79,101.15 L666.46,100.58 L667.14,100.03 L667.81,99.51 L668.49,99.01 L669.17,98.53 L669.84,98.07 L670.52,97.64 L671.20,97.24 L671.87,96.86 L672.55,96.50 L673.22,96.18 L673.90,95.88" fill="none" stroke="#0000ff" stroke-width="2.15" stroke-linejoin="round" />
<line x1="539.00" y1="94.30" x2="539.00" y2="208.40" stroke="#0000ff" stroke-width="2.0" stroke-linecap="butt"/>
<line x1="468.00" y1="174.00" x2="468.00" y2="177.30" stroke="#0000ff" stroke-width="2.0" stroke-linecap="butt" stroke-opacity="0.6"/>
<path d="M404.10,24.16 L404.78,24.77 L405.45,25.44 L406.13,26.15 L406.80,26.93 L407.48,27.75 L408.16,28.63 L408.83,29.56 L409.51,30.54 L410.19,31.57 L410.86,32.65 L411.54,33.77 L412.21,34.93 L412.89,36.13 L413.57,37.38 L414.24,38.65 L414.92,39.96 L415.60,41.30 L416.27,42.67 L416.95,44.07 L417.62,45.49 L418.30,46.92 L418.98,48.38 L419.65,49.85 L420.33,51.34 L421.00,52.84 L421.68,54.35 L422.36,55.87 L423.03,57.41 L423.71,58.95 L424.39,60.50 L425.06,62.06 L425.74,63.63 L426.41,65.21 L427.09,66.81 L427.77,68.42 L428.44,70.05 L429.12,71.69 L429.80,73.35 L430.47,75.04 L431.15,76.75 L431.82,78.49 L432.50,80.26 L433.18,82.05 L433.85,83.89 L434.53,85.75 L435.20,87.66 L435.88,89.60 L436.56,91.58 L437.23,93.60 L437.91,95.66 L438.59,97.75 L439.26,99.89 L439.94,102.06 L440.61,104.26 L441.29,106.50 L441.97,108.76 L442.64,111.05 L443.32,113.36 L444.00,115.69 L444.67,118.03 L445.35,120.38 L446.02,122.73 L446.70,125.07 L447.38,127.40 L448.05,129.72 L448.73,132.02 L449.40,134.29 L450.08,136.52 L450.76,138.72 L451.43,140.87 L452.11,142.97 L452.79,145.01 L453.46,147.00 L454.14,148.91 L454.81,150.76 L455.49,152.53 L456.17,154.23 L456.84,155.84 L457.52,157.37 L458.20,158.81 L458.87,160.16 L459.55,161.43 L460.22,162.59 L460.90,163.67 L461.58,164.65 L462.25,165.53 L462.93,166.32 L463.60,167.00 L464.28,167.59 L464.96,168.09 L465.63,168.48 L466.31,168.78 L466.99,168.97 L467.66,169.07 L468.34,169.07 L469.01,168.97 L469.69,168.78 L470.37,168.48 L471.04,168.09 L471.72,167.59 L472.40,167.00 L473.07,166.32 L473.75,165.53 L474.42,164.65 L475.10,163.67 L475.78,162.59 L476.45,161.43 L477.13,160.16 L477.80,158.81 L478.48,157.37 L479.16,155.84 L479.83,154.23 L480.51,152.53 L481.19,150.76 L481.86,148.91 L482.54,147.00 L483.21,145.01 L483.89,142.97 L484.57,140.87 L485.24,138.72 L485.92,136.52 L486.60,134.29 L487.27,132.02 L487.95,129.72 L488.62,127.40 L489.30,125.07 L489.98,122.73 L490.65,120.38 L491.33,118.03 L492.00,115.69 L492.68,113.36 L493.36,111.05 L494.03,108.76 L494.71,106.50 L495.39,104.26 L496.06,102.06 L496.74,99.89 L497.41,97.75 L498.09,95.66 L498.77,93.60 L499.44,91.58 L500.12,89.60 L500.80,87.66 L501.47,85.75 L502.15,83.89 L502.82,82.05 L503.50,80.26 L504.18,78.49 L504.85,76.75 L505.53,75.04 L506.20,73.35 L506.88,71.69 L507.56,70.05 L508.23,68.42 L508.91,66.81 L509.59,65.21 L510.26,63.63 L510.94,62.06 L511.61,60.50 L512.29,58.95 L512.97,57.41 L513.64,55.87 L514.32,54.35 L515.00,52.84 L515.67,51.34 L516.35,49.85 L517.02,48.38 L517.70,46.92 L518.38,45.49 L519.05,44.07 L519.73,42.67 L520.40,41.30 L521.08,39.96 L521.76,38.65 L522.43,37.38 L523.11,36.13 L523.79,34.93 L524.46,33.77 L525.14,32.65 L525.81,31.57 L526.49,30.54 L527.17,29.56 L527.84,28.63 L528.52,27.75 L529.20,26.93 L529.87,26.15 L530.55,25.44 L531.22,24.77 L531.90,24.16 L532.58,23.61 L533.25,23.11 L533.93,22.67 L534.60,22.28 L535.28,21.95 L535.96,21.67 L536.63,21.45 L537.31,21.28 L537.99,21.17 L538.66,21.12 L539.34,21.12 L540.01,21.17 L540.69,21.28 L541.37,21.45 L542.04,21.67 L542.72,21.95 L543.40,22.28 L544.07,22.67 L544.75,23.11 L545.42,23.61 L546.10,24.16 L546.78,24.77 L547.45,25.44 L548.13,26.15 L548.80,26.93 L549.48,27.75 L550.16,28.63 L550.83,29.56 L551.51,30.54 L552.19,31.57 L552.86,32.65 L553.54,33.77 L554.21,34.93 L554.89,36.13 L555.57,37.38 L556.24,38.65 L556.92,39.96 L557.60,41.30 L558.27,42.67 L558.95,44.07 L559.62,45.49 L560.30,46.92 L560.98,48.38 L561.65,49.85 L562.33,51.34 L563.00,52.84 L563.68,54.35 L564.36,55.87 L565.03,57.41 L565.71,58.95 L566.39,60.50 L567.06,62.06 L567.74,63.63 L568.41,65.21 L569.09,66.81 L569.77,68.42 L570.44,70.05 L571.12,71.69 L571.80,73.35 L572.47,75.04 L573.15,76.75 L573.82,78.49 L574.50,80.26 L575.18,82.05 L575.85,83.89 L576.53,85.75 L577.20,87.66 L577.88,89.60 L578.56,91.58 L579.23,93.60 L579.91,95.66 L580.59,97.75 L581.26,99.89 L581.94,102.06 L582.61,104.26 L583.29,106.50 L583.97,108.76 L584.64,111.05 L585.32,113.36 L586.00,115.69 L586.67,118.03 L587.35,120.38 L588.02,122.73 L588.70,125.07 L589.38,127.40 L590.05,129.72 L590.73,132.02 L591.40,134.29 L592.08,136.52 L592.76,138.72 L593.43,140.87 L594.11,142.97 L594.79,145.01 L595.46,147.00 L596.14,148.91 L596.81,150.76 L597.49,152.53 L598.17,154.23 L598.84,155.84 L599.52,157.37 L600.20,158.81 L600.87,160.16 L601.55,161.43 L602.22,162.59 L602.90,163.67 L603.58,164.65 L604.25,165.53 L604.93,166.32 L605.60,167.00 L606.28,167.59 L606.96,168.09 L607.63,168.48 L608.31,168.78 L608.99,168.97 L609.66,169.07 L610.34,169.07 L611.01,168.97 L611.69,168.78 L612.37,168.48 L613.04,168.09 L613.72,167.59 L614.40,167.00 L615.07,166.32 L615.75,165.53 L616.42,164.65 L617.10,163.67 L617.78,162.59 L618.45,161.43 L619.13,160.16 L619.80,158.81 L620.48,157.37 L621.16,155.84 L621.83,154.23 L622.51,152.53 L623.19,150.76 L623.86,148.91 L624.54,147.00 L625.21,145.01 L625.89,142.97 L626.57,140.87 L627.24,138.72 L627.92,136.52 L628.60,134.29 L629.27,132.02 L629.95,129.72 L630.62,127.40 L631.30,125.07 L631.98,122.73 L632.65,120.38 L633.33,118.03 L634.00,115.69 L634.68,113.36 L635.36,111.05 L636.03,108.76 L636.71,106.50 L637.39,104.26 L638.06,102.06 L638.74,99.89 L639.41,97.75 L640.09,95.66 L640.77,93.60 L641.44,91.58 L642.12,89.60 L642.80,87.66 L643.47,85.75 L644.15,83.89 L644.82,82.05 L645.50,80.26 L646.18,78.49 L646.85,76.75 L647.53,75.04 L648.20,73.35 L648.88,71.69 L649.56,70.05 L650.23,68.42 L650.91,66.81 L651.59,65.21 L652.26,63.63 L652.94,62.06 L653.61,60.50 L654.29,58.95 L654.97,57.41 L655.64,55.87 L656.32,54.35 L657.00,52.84 L657.67,51.34 L658.35,49.85 L659.02,48.38 L659.70,46.92 L660.38,45.49 L661.05,44.07 L661.73,42.67 L662.40,41.30 L663.08,39.96 L663.76,38.65 L664.43,37.38 L665.11,36.13 L665.79,34.93 L666.46,33.77 L667.14,32.65 L667.81,31.57 L668.49,30.54 L669.17,29.56 L669.84,28.63 L670.52,27.75 L671.20,26.93 L671.87,26.15 L672.55,25.44 L673.22,24.77 L673.90,24.16" fill="none" stroke="#00ff00" stroke-width="1.12" stroke-linejoin="round" />
<line x1="468.00" y1="164.90" x2="468.00" y2="169.30" stroke="#00ff00" stroke-width="2.0" stroke-linecap="butt" stroke-opacity="0.5"/>
<line x1="539.00" y1="21.10" x2="539.00" y2="94.30" stroke="#00ff00" stroke-width="2.0" stroke-linecap="butt" stroke-opacity="0.53"/>
<line x1="539.00" y1="94.30" x2="539.00" y2="194.80" stroke="#00ff00" stroke-width="2.0" stroke-linecap="butt" stroke-opacity="0.46"/>
<rect x="218.4" y="61.5" width="108.0" height="63.7" fill="#ffffff" stroke="#6c6c6c" stroke-width="1"/>
<line x1="221.2" y1="69.9" x2="247.4" y2="69.9" stroke="#000000" stroke-width="6.6"/>
<text transform="translate(249.74,73.70) scale(1.33,1)" font-size="13" fill="#1c1c1c">Δ</text>
<text transform="translate(260.41,73.70) scale(1.15,1)" font-size="11.5" font-style="italic" fill="#1c1c1c">σ</text>
<text transform="translate(267.59,75.80) scale(1.1,1)" font-size="8.5" fill="#1c1c1c">2</text>
<text x="273.50" y="76.50" font-size="18" fill="#1c1c1c">/</text>
<text transform="translate(279.31,73.70) scale(1.15,1)" font-size="11.5" font-style="italic" fill="#1c1c1c">σ</text>
<text transform="translate(286.49,75.80) scale(1.1,1)" font-size="8.5" fill="#1c1c1c">2</text>
<text transform="translate(294.11,74.90) scale(1.37,1)" font-size="13" stroke="#1c1c1c" stroke-width="0.25" fill="#1c1c1c">=</text>
<text transform="translate(308.19,73.70) scale(1.02,1)" font-size="13" fill="#1c1c1c">0.3</text>
<line x1="221.2" y1="85.2" x2="247.4" y2="85.2" stroke="#ff0000" stroke-width="3.8"/>
<text transform="translate(249.74,89.05) scale(1.33,1)" font-size="13" fill="#1c1c1c">Δ</text>
<text transform="translate(260.41,89.05) scale(1.15,1)" font-size="11.5" font-style="italic" fill="#1c1c1c">σ</text>
<text transform="translate(267.59,91.15) scale(1.1,1)" font-size="8.5" fill="#1c1c1c">2</text>
<text x="273.50" y="91.85" font-size="18" fill="#1c1c1c">/</text>
<text transform="translate(279.31,89.05) scale(1.15,1)" font-size="11.5" font-style="italic" fill="#1c1c1c">σ</text>
<text transform="translate(286.49,91.15) scale(1.1,1)" font-size="8.5" fill="#1c1c1c">2</text>
<text transform="translate(294.11,90.25) scale(1.37,1)" font-size="13" stroke="#1c1c1c" stroke-width="0.25" fill="#1c1c1c">=</text>
<text transform="translate(308.19,89.05) scale(1.02,1)" font-size="13" fill="#1c1c1c">0.5</text>
<line x1="221.2" y1="100.6" x2="247.4" y2="100.6" stroke="#0000ff" stroke-width="2.0"/>
<text transform="translate(249.74,104.40) scale(1.33,1)" font-size="13" fill="#1c1c1c">Δ</text>
<text transform="translate(260.41,104.40) scale(1.15,1)" font-size="11.5" font-style="italic" fill="#1c1c1c">σ</text>
<text transform="translate(267.59,106.50) scale(1.1,1)" font-size="8.5" fill="#1c1c1c">2</text>
<text x="273.50" y="107.20" font-size="18" fill="#1c1c1c">/</text>
<text transform="translate(279.31,104.40) scale(1.15,1)" font-size="11.5" font-style="italic" fill="#1c1c1c">σ</text>
<text transform="translate(286.49,106.50) scale(1.1,1)" font-size="8.5" fill="#1c1c1c">2</text>
<text transform="translate(294.11,105.60) scale(1.37,1)" font-size="13" stroke="#1c1c1c" stroke-width="0.25" fill="#1c1c1c">=</text>
<text transform="translate(308.19,104.40) scale(1.02,1)" font-size="13" fill="#1c1c1c">0.7</text>
<line x1="221.2" y1="116.0" x2="247.4" y2="116.0" stroke="#00ff00" stroke-width="1.0"/>
<text transform="translate(249.74,119.75) scale(1.33,1)" font-size="13" fill="#1c1c1c">Δ</text>
<text transform="translate(260.41,119.75) scale(1.15,1)" font-size="11.5" font-style="italic" fill="#1c1c1c">σ</text>
<text transform="translate(267.59,121.85) scale(1.1,1)" font-size="8.5" fill="#1c1c1c">2</text>
<text x="273.50" y="122.55" font-size="18" fill="#1c1c1c">/</text>
<text transform="translate(279.31,119.75) scale(1.15,1)" font-size="11.5" font-style="italic" fill="#1c1c1c">σ</text>
<text transform="translate(286.49,121.85) scale(1.1,1)" font-size="8.5" fill="#1c1c1c">2</text>
<text transform="translate(294.11,120.95) scale(1.37,1)" font-size="13" stroke="#1c1c1c" stroke-width="0.25" fill="#1c1c1c">=</text>
<text transform="translate(308.19,119.75) scale(1.02,1)" font-size="13" fill="#1c1c1c">0.9</text>
<rect x="572.7" y="4.3" width="108.6" height="64.4" fill="#ffffff" stroke="#6c6c6c" stroke-width="1"/>
<line x1="575.5" y1="13.3" x2="601.7" y2="13.3" stroke="#000000" stroke-width="6.6"/>
<text transform="translate(604.04,17.10) scale(1.33,1)" font-size="13" fill="#1c1c1c">Δ</text>
<text transform="translate(614.71,17.10) scale(1.15,1)" font-size="11.5" font-style="italic" fill="#1c1c1c">σ</text>
<text transform="translate(621.48,19.20) scale(1.1,1)" font-size="8.5" fill="#1c1c1c">1</text>
<text x="627.80" y="19.90" font-size="18" fill="#1c1c1c">/</text>
<text transform="translate(633.61,17.10) scale(1.15,1)" font-size="11.5" font-style="italic" fill="#1c1c1c">σ</text>
<text transform="translate(640.38,19.20) scale(1.1,1)" font-size="8.5" fill="#1c1c1c">1</text>
<text transform="translate(648.41,18.30) scale(1.37,1)" font-size="13" stroke="#1c1c1c" stroke-width="0.25" fill="#1c1c1c">=</text>
<text transform="translate(662.49,17.10) scale(1.02,1)" font-size="13" fill="#1c1c1c">0.3</text>
<line x1="575.5" y1="28.7" x2="601.7" y2="28.7" stroke="#ff0000" stroke-width="3.8"/>
<text transform="translate(604.04,32.45) scale(1.33,1)" font-size="13" fill="#1c1c1c">Δ</text>
<text transform="translate(614.71,32.45) scale(1.15,1)" font-size="11.5" font-style="italic" fill="#1c1c1c">σ</text>
<text transform="translate(621.48,34.55) scale(1.1,1)" font-size="8.5" fill="#1c1c1c">1</text>
<text x="627.80" y="35.25" font-size="18" fill="#1c1c1c">/</text>
<text transform="translate(633.61,32.45) scale(1.15,1)" font-size="11.5" font-style="italic" fill="#1c1c1c">σ</text>
<text transform="translate(640.38,34.55) scale(1.1,1)" font-size="8.5" fill="#1c1c1c">1</text>
<text transform="translate(648.41,33.65) scale(1.37,1)" font-size="13" stroke="#1c1c1c" stroke-width="0.25" fill="#1c1c1c">=</text>
<text transform="translate(662.49,32.45) scale(1.02,1)" font-size="13" fill="#1c1c1c">0.5</text>
<line x1="575.5" y1="44.0" x2="601.7" y2="44.0" stroke="#0000ff" stroke-width="2.0"/>
<text transform="translate(604.04,47.80) scale(1.33,1)" font-size="13" fill="#1c1c1c">Δ</text>
<text transform="translate(614.71,47.80) scale(1.15,1)" font-size="11.5" font-style="italic" fill="#1c1c1c">σ</text>
<text transform="translate(621.48,49.90) scale(1.1,1)" font-size="8.5" fill="#1c1c1c">1</text>
<text x="627.80" y="50.60" font-size="18" fill="#1c1c1c">/</text>
<text transform="translate(633.61,47.80) scale(1.15,1)" font-size="11.5" font-style="italic" fill="#1c1c1c">σ</text>
<text transform="translate(640.38,49.90) scale(1.1,1)" font-size="8.5" fill="#1c1c1c">1</text>
<text transform="translate(648.41,49.00) scale(1.37,1)" font-size="13" stroke="#1c1c1c" stroke-width="0.25" fill="#1c1c1c">=</text>
<text transform="translate(662.49,47.80) scale(1.02,1)" font-size="13" fill="#1c1c1c">0.7</text>
<line x1="575.5" y1="59.4" x2="601.7" y2="59.4" stroke="#00ff00" stroke-width="1.0"/>
<text transform="translate(604.04,63.15) scale(1.33,1)" font-size="13" fill="#1c1c1c">Δ</text>
<text transform="translate(614.71,63.15) scale(1.15,1)" font-size="11.5" font-style="italic" fill="#1c1c1c">σ</text>
<text transform="translate(621.48,65.25) scale(1.1,1)" font-size="8.5" fill="#1c1c1c">1</text>
<text x="627.80" y="65.95" font-size="18" fill="#1c1c1c">/</text>
<text transform="translate(633.61,63.15) scale(1.15,1)" font-size="11.5" font-style="italic" fill="#1c1c1c">σ</text>
<text transform="translate(640.38,65.25) scale(1.1,1)" font-size="8.5" fill="#1c1c1c">1</text>
<text transform="translate(648.41,64.35) scale(1.37,1)" font-size="13" stroke="#1c1c1c" stroke-width="0.25" fill="#1c1c1c">=</text>
<text transform="translate(662.49,63.15) scale(1.02,1)" font-size="13" fill="#1c1c1c">0.9</text>
<text transform="translate(152.41,255.30) scale(1.05,1)" font-size="14.6" fill="#1c1c1c">Ω</text>
<text transform="translate(165.00,258.80) scale(1.08,1)" font-size="23" fill="#1c1c1c">/</text>
<text transform="translate(172.12,255.30) scale(1.04,1)" font-size="14" font-style="italic" fill="#1c1c1c">ω</text>
<text transform="translate(181.67,257.80) scale(1.08,1)" font-size="10.5" fill="#1c1c1c">0</text>
<text transform="translate(191.07,257.60) scale(1.38,1)" font-size="16.5" stroke="#1c1c1c" stroke-width="0.12" fill="#1c1c1c">≡</text>
<text x="208.52" y="255.30" font-size="14.6" fill="#1c1c1c">1</text>
<text transform="translate(215.90,258.80) scale(1.08,1)" font-size="23" fill="#1c1c1c">/</text>
<text transform="translate(223.67,255.30) scale(1.2,1)" font-size="13" font-style="italic" fill="#1c1c1c">r</text>
<text transform="translate(499.41,255.30) scale(1.05,1)" font-size="14.6" fill="#1c1c1c">Ω</text>
<text transform="translate(512.00,258.80) scale(1.08,1)" font-size="23" fill="#1c1c1c">/</text>
<text transform="translate(519.12,255.30) scale(1.04,1)" font-size="14" font-style="italic" fill="#1c1c1c">ω</text>
<text transform="translate(528.67,257.80) scale(1.08,1)" font-size="10.5" fill="#1c1c1c">0</text>
<text transform="translate(538.07,257.60) scale(1.38,1)" font-size="16.5" stroke="#1c1c1c" stroke-width="0.12" fill="#1c1c1c">≡</text>
<text x="555.52" y="255.30" font-size="14.6" fill="#1c1c1c">1</text>
<text transform="translate(562.90,258.80) scale(1.08,1)" font-size="23" fill="#1c1c1c">/</text>
<text transform="translate(570.67,255.30) scale(1.2,1)" font-size="13" font-style="italic" fill="#1c1c1c">r</text>
<text x="192.2" y="282" text-anchor="middle" class="cap">(a)</text>
<text x="543.9" y="282" text-anchor="middle" class="cap">(b)</text>
<text transform="translate(12.5,120.0) rotate(-90) scale(1.2,1)" font-size="15.5" font-style="italic" fill="#333333">P</text>
<text transform="translate(15.2,108.9) rotate(-90)" font-size="22" fill="#1c1c1c">′</text>
<text transform="translate(359.7,119.7) rotate(-90) scale(1.2,1)" font-size="15.5" font-style="italic" fill="#333333">P</text>
<text transform="translate(362.4,108.6) rotate(-90)" font-size="22" fill="#1c1c1c">′</text>
</svg>
</body></html>
